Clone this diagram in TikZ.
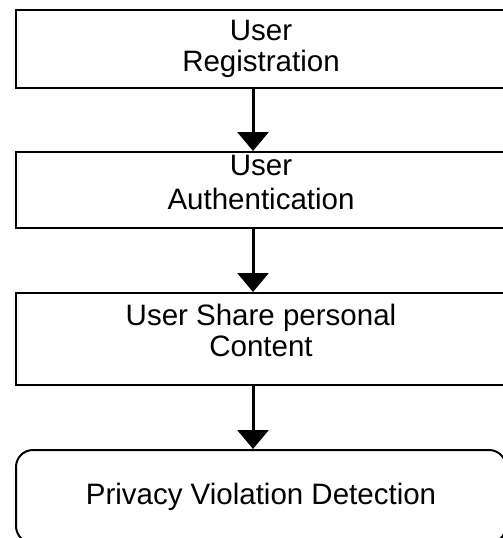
\documentclass[tikz,border=0pt]{standalone}
\usepackage{fontspec}
\setmainfont{Liberation Sans}
\usetikzlibrary{arrows.meta}

\tikzset{
    stepbox/.style={draw, line width=2pt, minimum width=490pt, align=center,
        font=\fontsize{29.5}{31}\selectfont, inner sep=0pt},
    endbox/.style={stepbox, rounded corners=17pt},
    flow/.style={line width=3pt, -{Triangle[width=31pt,length=19pt]}}
}

\begin{document}
\begin{tikzpicture}[x=1pt,y=-1pt]
        \useasboundingbox (0,0) rectangle (503,538);
        \node[stepbox, minimum height=78pt] (reg) at (261,49) {User\\Registration};
        \node[stepbox, minimum height=76pt, text depth=15pt] (auth) at (261,190) {User\\[3pt]Authentication};
        \node[stepbox, minimum height=92pt, text depth=18pt] (share) at (261,339) {User Share personal\\Content};
        \node[endbox, minimum height=93pt] (detect) at (261,496.5) {Privacy Violation Detection};
        \draw[flow] ([xshift=-8pt]reg.south) -- ([xshift=-8pt]auth.north);
        \draw[flow] ([xshift=-8pt]auth.south) -- ([xshift=-8pt]share.north);
        \draw[flow] ([xshift=-8pt]share.south) -- ([xshift=-8pt]detect.north);
\end{tikzpicture}
\end{document}
